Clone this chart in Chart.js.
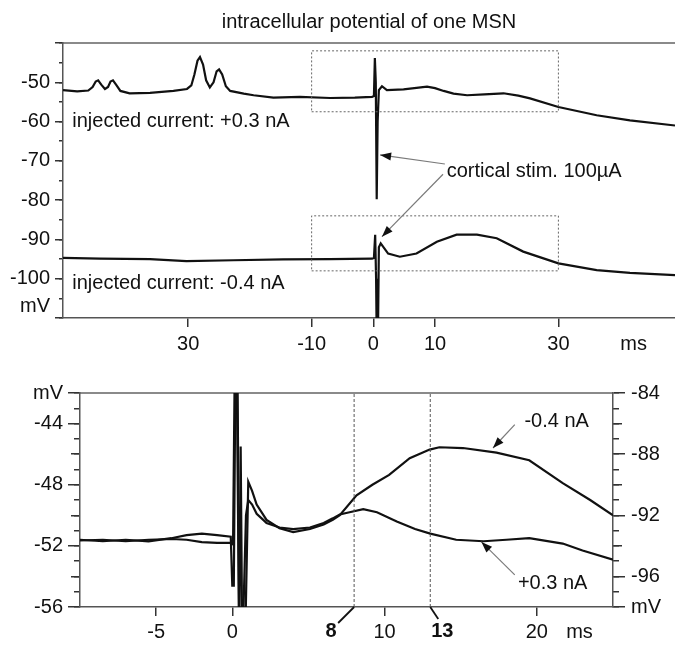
<!DOCTYPE html>
<html><head><meta charset="utf-8">
<script src="https://cdn.jsdelivr.net/npm/chart.js@4.4.1/dist/chart.umd.min.js"></script>
<style>
html,body{margin:0;padding:0;background:#fff;}
#wrap{position:relative;width:675px;height:645px;overflow:hidden;}
canvas{position:absolute;left:0;}
#topc{top:0;} #botc{top:365px;}
</style></head><body>
<div id="wrap"><canvas id="topc" width="675" height="365"></canvas><canvas id="botc" width="675" height="280"></canvas></div>
<script>
// ================= DATA =================
// Top panel: time (ms) , membrane potential (mV)
const topTraceP03 = [[-50.3,-52.0],[-48.0,-52.3],[-46.2,-52.1],[-45.5,-51.2],[-45.0,-49.8],[-44.6,-49.5],[-44.1,-50.6],[-43.5,-51.7],[-43.0,-51.2],[-42.6,-49.8],[-42.2,-49.5],[-41.7,-50.6],[-41.0,-52.2],[-39.5,-52.8],[-36.2,-52.7],[-32.4,-52.2],[-30.2,-51.7],[-29.5,-50.8],[-29.0,-48.0],[-28.5,-44.5],[-28.1,-43.6],[-27.6,-45.5],[-27.1,-49.5],[-26.5,-51.3],[-25.9,-50.0],[-25.4,-47.2],[-25.0,-46.7],[-24.5,-48.0],[-23.9,-51.0],[-23.2,-52.2],[-21.0,-52.9],[-19.4,-53.3],[-16.2,-53.9],[-11.9,-53.7],[-7.0,-54.0],[-3.0,-53.9],[-0.2,-53.7],[0.1,-53.5],[0.25,-43.8],[0.4,-50.0],[0.55,-79.8],[0.7,-60.0],[0.9,-52.0],[1.4,-51.0],[2.2,-52.0],[4.9,-51.8],[7.0,-51.4],[8.7,-51.1],[10.0,-51.5],[11.4,-52.2],[13.0,-52.9],[15.2,-53.3],[18.0,-53.1],[21.1,-52.8],[23.5,-53.4],[25.4,-54.1],[30.0,-56.3],[36.2,-58.4],[41.6,-59.7],[48.9,-61.0]];
const topTraceM04 = [[-50.3,-94.7],[-44.3,-94.9],[-36.2,-95.0],[-30.3,-95.5],[-22.7,-95.3],[-14.6,-95.1],[-7.0,-95.0],[-0.2,-94.9],[0.1,-94.7],[0.3,-88.8],[0.45,-100],[0.55,-115],[0.75,-115],[0.9,-92],[1.2,-91.0],[2.4,-93.6],[4.3,-94.4],[7.0,-93.6],[10.3,-90.6],[13.5,-88.8],[16.8,-88.8],[20.0,-89.7],[24.3,-93.1],[30.0,-96.1],[36.2,-97.8],[41.6,-98.5],[48.9,-99.1]];
// zoom windows shown as dotted boxes: [t0, t1, v0, v1]
const topBoxes = [[-10,30,-57.5,-42],[-10,30,-98,-84]];
const topXTicks = [-30,-10,0,10,30,42.2];
const topXLabels = ['30','-10','0','10','30','ms'];
const topYTicks = [-110,-107,-100,-90,-80,-70,-60,-50,-40];
const topYLabels = ['','mV','-100','-90','-80','-70','-60','-50',''];
const topTexts = [
  {text:'injected current: +0.3 nA', t:-48.8, v:-60.1},
  {text:'injected current: -0.4 nA', t:-48.8, v:-101.1},
  {text:'cortical stim. 100µA', t:11.9, v:-72.6}
];
const topArrows = [[11.6,-70.8,1.1,-68.5],[11.3,-73.4,1.4,-89.3]];

// Bottom panel: +0.3 nA on left axis, -0.4 nA on right axis
const botTraceP03 = [[-10,-51.6],[-8.5,-51.7],[-7,-51.6],[-5.5,-51.7],[-4,-51.5],[-3,-51.3],[-2,-51.2],[-1,-51.3],[-0.1,-51.4],[0.0,-54.6],[0.1,-54.6],[0.2,-41.5],[0.35,-41.5],[0.45,-57.5],[0.7,-57.5],[0.9,-50.0],[1.05,-49.0],[1.3,-49.3],[1.6,-49.9],[2.25,-50.5],[3.1,-50.8],[4.0,-50.9],[5.1,-50.8],[6.0,-50.5],[6.6,-50.2],[7.06,-49.95],[7.7,-49.8],[8.6,-49.6],[9.5,-49.8],[10.8,-50.4],[12.0,-50.9],[13.0,-51.2],[14.7,-51.6],[16.5,-51.7],[18.0,-51.6],[19.5,-51.5],[21.7,-51.85],[23.0,-52.3],[25.0,-52.9]];
const botTraceM04 = [[-10,-93.65],[-8.5,-93.6],[-7,-93.7],[-5.5,-93.6],[-4,-93.55],[-3,-93.6],[-2,-93.75],[-1,-93.8],[-0.1,-93.8],[0.05,-93.9],[0.15,-83.5],[0.3,-83.5],[0.45,-100],[0.55,-87.5],[0.65,-100],[0.85,-100],[1.05,-89.8],[1.3,-90.4],[1.6,-91.3],[2.25,-92.3],[3.1,-92.85],[4.0,-93.1],[5.1,-92.9],[6.0,-92.6],[6.6,-92.3],[7.06,-92.0],[8.16,-90.7],[9.2,-90.0],[10.3,-89.36],[11.65,-88.27],[12.96,-87.7],[13.6,-87.55],[15.15,-87.6],[17.35,-87.9],[19.5,-88.4],[21.7,-89.9],[23.5,-91.0],[25,-92.0]];
const botMarkers = [8,13];
const botMarkerLabels = ['8','13'];
const botXTicks = [-5,0,10,20,22.8];
const botXLabels = ['-5','0','10','20','ms'];
const botYTicks = [-56,-52,-48,-44,-42];
const botYLabels = ['-56','-52','-48','-44','mV'];
const botYMid = [-54,-50,-46];
const botY2Ticks = [-98,-96,-92,-88,-84];
const botY2Labels = ['mV','-96','-92','-88','-84'];
const botY2Mid = [-94,-90,-86];
const botTexts = [
  {text:'-0.4 nA', t:21.3, v:-43.86, align:'center'},
  {text:'+0.3 nA', t:21.04, v:-54.47, align:'center'}
];
const botArrows = [[18.55,-44.07,17.12,-45.6],[18.55,-53.9,16.36,-51.74]];

// ================= HELPERS =================
const FONT = '"Liberation Sans", Arial, Helvetica, sans-serif';
const AXIS_COLOR = '#555';
const TEXT_COLOR = '#111';
const pts = arr => arr.map(p => ({x:p[0], y:p[1]}));

function mainAxis(o){
  return {
    type:'linear', position:o.pos, min:o.min, max:o.max, weight:2,
    afterBuildTicks: s => { s.ticks = o.ticks.map(v => ({value:v})); },
    afterFit: s => { if (s.isHorizontal()) s.height = o.size; else s.width = o.size; },
    ticks:{ autoSkip:false, maxRotation:0, minRotation:0, padding:o.pad, color:TEXT_COLOR,
      font:{family:FONT, size:20},
      callback: v => { const i = o.ticks.indexOf(v); return i < 0 ? '' : o.labels[i]; } },
    grid:{ drawOnChartArea:false, drawTicks:true, tickLength:o.tickLen, tickWidth:1.5, lineWidth:1.5,
      color: ctx => (ctx.tick && (o.noMark||[]).includes(ctx.tick.value)) ? 'rgba(0,0,0,0)' : '#333' },
    border:{ display:true, color:o.border || AXIS_COLOR, width:o.borderWidth || 1.5 }
  };
}
function minorAxis(o){
  const a = {
    type:'linear', position:o.pos, min:o.min, max:o.max, weight:o.weight,
    afterFit: s => { if (s.isHorizontal()) s.height = 0; else s.width = 0; },
    ticks:{ display:false, stepSize:o.step, autoSkip:false },
    grid:{ drawOnChartArea:false, drawTicks:true, tickLength:o.tickLen, tickWidth:1.5, lineWidth:1.5, color:'#333' },
    border:{ display:false }
  };
  if (o.ticks) a.afterBuildTicks = s => { s.ticks = o.ticks.map(v => ({value:v})); };
  return a;
}
function borderAxis(min, max){
  return { type:'linear', position:'top', min, max, weight:0,
    afterFit: s => { s.height = 0; },
    ticks:{ display:false },
    grid:{ drawOnChartArea:false, drawTicks:false },
    border:{ display:true, color:'#8a8a8a', width:2 } };
}
function trace(data, yAxisID){
  return { data: pts(data), yAxisID, showLine:true, pointRadius:0, borderColor:'#111', borderWidth:2.2, tension:0, fill:false };
}

const notesPlugin = {
  id:'notes',
  afterDatasetsDraw(chart, args, opts){
    const ctx = chart.ctx, xs = chart.scales.x, ys = chart.scales.y;
    ctx.save();
    (opts.arrows||[]).forEach(a => {
      const x1 = xs.getPixelForValue(a[0]), y1 = ys.getPixelForValue(a[1]);
      const x2 = xs.getPixelForValue(a[2]), y2 = ys.getPixelForValue(a[3]);
      ctx.strokeStyle = '#7a7a7a'; ctx.lineWidth = 1.2;
      ctx.beginPath(); ctx.moveTo(x1,y1); ctx.lineTo(x2,y2); ctx.stroke();
      const ang = Math.atan2(y2-y1, x2-x1), L = 11, W = 4;
      ctx.fillStyle = '#111'; ctx.beginPath(); ctx.moveTo(x2,y2);
      ctx.lineTo(x2 - L*Math.cos(ang) + W*Math.sin(ang), y2 - L*Math.sin(ang) - W*Math.cos(ang));
      ctx.lineTo(x2 - L*Math.cos(ang) - W*Math.sin(ang), y2 - L*Math.sin(ang) + W*Math.cos(ang));
      ctx.closePath(); ctx.fill();
    });
    (opts.texts||[]).forEach(n => {
      ctx.font = '20px ' + FONT; ctx.fillStyle = TEXT_COLOR;
      ctx.textAlign = n.align || 'left'; ctx.textBaseline = 'middle';
      ctx.fillText(n.text, xs.getPixelForValue(n.t), ys.getPixelForValue(n.v));
    });
    (opts.markers||[]).forEach((m, i) => {
      const px = xs.getPixelForValue(m), py = chart.chartArea.bottom;
      const st = opts.markerStyle[i];
      ctx.strokeStyle = '#111'; ctx.lineWidth = 1.8;
      ctx.beginPath(); ctx.moveTo(px, py); ctx.lineTo(px + st.dx, py + st.dy); ctx.stroke();
      ctx.font = 'bold 20px ' + FONT; ctx.fillStyle = '#111';
      ctx.textAlign = 'center'; ctx.textBaseline = 'middle';
      ctx.fillText(opts.markerLabels[i], px + st.lx, py + st.ly);
    });
    ctx.restore();
  }
};

// ================= TOP CHART =================
const boxDatasets = topBoxes.map(b => ({
  data: pts([[b[0],b[2]],[b[1],b[2]],[b[1],b[3]],[b[0],b[3]],[b[0],b[2]]]), yAxisID:'y',
  showLine:true, pointRadius:0, borderColor:'#666', borderWidth:1, borderDash:[2,2], tension:0, fill:false }));

new Chart(document.getElementById('topc'), {
  type:'scatter',
  data:{ datasets:[ ...boxDatasets, trace(topTraceP03,'y'), trace(topTraceM04,'y') ] },
  plugins:[notesPlugin],
  options:{
    responsive:false, animation:false, devicePixelRatio:1,
    layout:{ padding:0 },
    plugins:{
      legend:{display:false}, tooltip:{enabled:false},
      title:{ display:true, text:'intracellular potential of one MSN', fullSize:false, color:TEXT_COLOR,
        font:{family:FONT, size:20, weight:'normal'}, padding:{top:10, bottom:9} },
      notes:{ texts:topTexts, arrows:topArrows }
    },
    scales:{
      x: mainAxis({pos:'bottom', min:-50.3, max:48.9, ticks:topXTicks, labels:topXLabels, size:47, tickLen:9, pad:5, noMark:[42.2]}),
      xTop: borderAxis(-50.3, 48.9),
      y: mainAxis({pos:'left', min:-110, max:-40, ticks:topYTicks, labels:topYLabels, size:63, tickLen:8, pad:5, noMark:[-107]}),
      yMinor: minorAxis({pos:'left', min:-110, max:-40, step:5, tickLen:4, weight:0})
    }
  }
});

// ================= BOTTOM CHART =================
const markerDatasets = botMarkers.map(m => ({
  data: pts([[m,-56],[m,-42]]), yAxisID:'y', showLine:true, pointRadius:0,
  borderColor:'#555', borderWidth:1, borderDash:[3,2], tension:0, fill:false }));

new Chart(document.getElementById('botc'), {
  type:'scatter',
  data:{ datasets:[ ...markerDatasets, trace(botTraceP03,'y'), trace(botTraceM04,'y2') ] },
  plugins:[notesPlugin],
  options:{
    responsive:false, animation:false, devicePixelRatio:1,
    layout:{ padding:{top:28, left:0, right:0, bottom:0} },
    plugins:{
      legend:{display:false}, tooltip:{enabled:false}, title:{display:false},
      notes:{ texts:botTexts, arrows:botArrows, markers:botMarkers, markerLabels:botMarkerLabels,
        markerStyle:[{dx:-16, dy:16, lx:-23, ly:24},{dx:8, dy:12, lx:12, ly:24}] }
    },
    scales:{
      x: mainAxis({pos:'bottom', min:-10, max:25, ticks:botXTicks, labels:botXLabels, size:38, tickLen:9, pad:4, noMark:[22.8]}),
      xTop: borderAxis(-10, 25),
      y: mainAxis({pos:'left', min:-56, max:-42, ticks:botYTicks, labels:botYLabels, size:80, tickLen:12, pad:5}),
      yMid: minorAxis({pos:'left', min:-56, max:-42, ticks:botYMid, tickLen:9, weight:1}),
      yMinor: minorAxis({pos:'left', min:-56, max:-42, step:1, tickLen:6, weight:0}),
      y2: mainAxis({pos:'right', min:-98, max:-84, ticks:botY2Ticks, labels:botY2Labels, size:62, tickLen:12, pad:6}),
      y2Mid: minorAxis({pos:'right', min:-98, max:-84, ticks:botY2Mid, tickLen:9, weight:1}),
      y2Minor: minorAxis({pos:'right', min:-98, max:-84, step:1, tickLen:6, weight:0})
    }
  }
});
</script>
</body></html>
